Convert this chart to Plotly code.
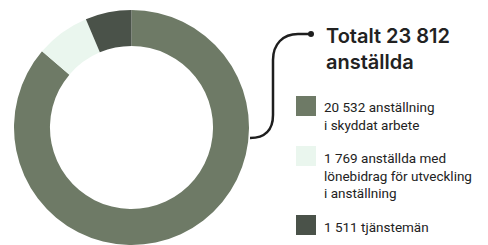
import plotly.graph_objects as go

labels = ["20 532 anställning<br>i skyddat arbete",
          "1 769 anställda med<br>lönebidrag för utveckling<br>i anställning",
          "1 511 tjänstemän"]
values = [20532, 1769, 1511]
colors = ["#6E7A66", "#EAF6EE", "#4A5249"]
title_text = "Totalt 23 812<br>anställda"

W, H = 488, 245

def px(x):
    return x / W

def py(y):
    return 1 - y / H

fig = go.Figure()
fig.add_trace(go.Pie(
    values=values, labels=labels, sort=False, direction="clockwise", rotation=0,
    hole=0.694, textinfo="none", hoverinfo="skip",
    marker=dict(colors=colors, line=dict(width=0)),
    domain=dict(x=[px(13), px(250)], y=[0, py(10)]),
    showlegend=False,
))

# connector line
pts = [(250, 138), (265, 138), (273, 130), (273, 115), (273, 60), (273, 44), (283, 34), (298, 34), (311, 34)]
p = [(px(a), py(b)) for a, b in pts]
path = (f"M {p[0][0]},{p[0][1]} C {p[1][0]},{p[1][1]} {p[2][0]},{p[2][1]} {p[3][0]},{p[3][1]} "
        f"L {p[4][0]},{p[4][1]} C {p[5][0]},{p[5][1]} {p[6][0]},{p[6][1]} {p[7][0]},{p[7][1]} "
        f"L {p[8][0]},{p[8][1]}")
shapes = [dict(type="path", xref="paper", yref="paper", path=path,
               line=dict(color="#1E1E1E", width=2.5), layer="above")]
shapes.append(dict(type="circle", xref="paper", yref="paper",
                   x0=px(308), x1=px(314), y0=py(31), y1=py(37),
                   fillcolor="#1E1E1E", line=dict(width=0)))

sq_tops = [96, 146, 215]
txt_tops = [97, 148, 217]
annotations = [dict(text=title_text, x=px(324), y=py(22), xref="paper", yref="paper",
                    xanchor="left", yanchor="top", align="left", showarrow=False,
                    font=dict(family="Inter", size=20, color="#222222", weight=600))]
for lab, col, st, tt in zip(labels, colors, sq_tops, txt_tops):
    shapes.append(dict(type="rect", xref="paper", yref="paper",
                       x0=px(296), x1=px(316), y0=py(st + 20), y1=py(st),
                       fillcolor=col, line=dict(width=0)))
    annotations.append(dict(text=lab, x=px(322), y=py(tt), xref="paper", yref="paper",
                            xanchor="left", yanchor="top", align="left", showarrow=False,
                            font=dict(family="Roboto", size=13.5, color="#222222")))

fig.update_layout(width=W, height=H, margin=dict(l=0, r=0, t=0, b=0),
                  paper_bgcolor="white", plot_bgcolor="white",
                  shapes=shapes, annotations=annotations)
fig.write_html("out.html", config={"displayModeBar": False},
               post_script="document.body.style.margin='0';document.body.style.overflow='hidden';")
